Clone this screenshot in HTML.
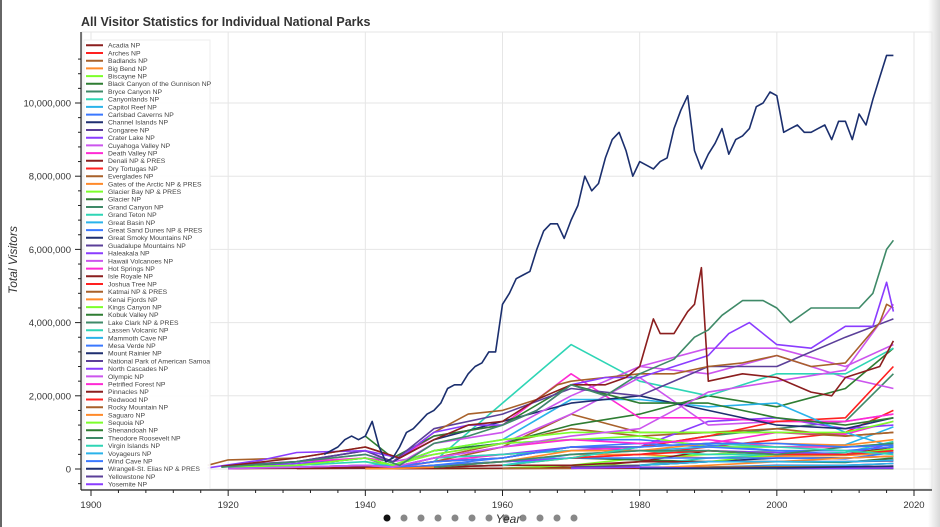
<!DOCTYPE html>
<html><head><meta charset="utf-8">
<style>
html,body{margin:0;padding:0;background:#fff;}
body{width:940px;height:527px;overflow:hidden;position:relative;font-family:"Liberation Sans",sans-serif;}
svg{position:absolute;left:0;top:0;}
</style></head>
<body>
<svg id="chart" width="940" height="527" viewBox="0 0 940 527"></svg>
<script>
const parkNames=["Acadia NP","Arches NP","Badlands NP","Big Bend NP","Biscayne NP","Black Canyon of the Gunnison NP","Bryce Canyon NP","Canyonlands NP","Capitol Reef NP","Carlsbad Caverns NP","Channel Islands NP","Congaree NP","Crater Lake NP","Cuyahoga Valley NP","Death Valley NP","Denali NP & PRES","Dry Tortugas NP","Everglades NP","Gates of the Arctic NP & PRES","Glacier Bay NP & PRES","Glacier NP","Grand Canyon NP","Grand Teton NP","Great Basin NP","Great Sand Dunes NP & PRES","Great Smoky Mountains NP","Guadalupe Mountains NP","Haleakala NP","Hawaii Volcanoes NP","Hot Springs NP","Isle Royale NP","Joshua Tree NP","Katmai NP & PRES","Kenai Fjords NP","Kings Canyon NP","Kobuk Valley NP","Lake Clark NP & PRES","Lassen Volcanic NP","Mammoth Cave NP","Mesa Verde NP","Mount Rainier NP","National Park of American Samoa","North Cascades NP","Olympic NP","Petrified Forest NP","Pinnacles NP","Redwood NP","Rocky Mountain NP","Saguaro NP","Sequoia NP","Shenandoah NP","Theodore Roosevelt NP","Virgin Islands NP","Voyageurs NP","Wind Cave NP","Wrangell-St. Elias NP & PRES","Yellowstone NP","Yosemite NP","Zion NP"];
const palette=["#8b1e1e","#ff2020","#a8612a","#ff8a2a","#7cff2a","#2e7d32","#3f8a68","#2ed5b5","#2ab3ea","#3a78ff","#1f2f70","#5b3f99","#8a3cff","#cc55ee","#ff2ad4"];
// Yearly data for Great Smoky Mountains (millions)
const smokyYears=[1934,1935,1936,1937,1938,1939,1940,1941,1942,1943,1944,1945,1946,1947,1948,1949,1950,1951,1952,1953,1954,1955,1956,1957,1958,1959,1960,1961,1962,1963,1964,1965,1966,1967,1968,1969,1970,1971,1972,1973,1974,1975,1976,1977,1978,1979,1980,1981,1982,1983,1984,1985,1986,1987,1988,1989,1990,1991,1992,1993,1994,1995,1996,1997,1998,1999,2000,2001,2002,2003,2004,2005,2006,2007,2008,2009,2010,2011,2012,2013,2014,2015,2016,2017];
const smokyValues=[0.4,0.5,0.6,0.8,0.9,0.8,0.9,1.3,0.6,0.2,0.3,0.6,1.0,1.1,1.3,1.5,1.6,1.8,2.2,2.3,2.3,2.6,2.8,2.9,3.2,3.2,4.5,4.8,5.2,5.3,5.4,6.0,6.5,6.7,6.7,6.3,6.8,7.2,8.0,7.6,7.8,8.5,9.0,9.2,8.7,8.0,8.4,8.3,8.2,8.4,8.5,9.3,9.8,10.2,8.7,8.2,8.6,8.9,9.3,8.6,9.0,9.1,9.3,9.9,10.0,10.3,10.2,9.2,9.3,9.4,9.2,9.2,9.3,9.4,9.0,9.5,9.5,9.0,9.7,9.4,10.1,10.7,11.3,11.3];
// Major series: years + values (millions)
const canyonYears=[1919,1930,1940,1945,1950,1955,1960,1965,1970,1975,1980,1985,1988,1990,1992,1995,1998,2000,2002,2005,2008,2010,2012,2014,2016,2017];
const canyonValues=[0.05,0.2,0.4,0.1,0.7,0.9,1.2,1.6,2.3,2.0,2.6,3.0,3.6,3.8,4.2,4.6,4.6,4.4,4.0,4.4,4.4,4.4,4.4,4.8,6.0,6.25];
const acadiaYears=[1919,1930,1940,1945,1950,1955,1960,1965,1970,1975,1978,1980,1982,1983,1985,1987,1988,1989,1990,1995,2000,2005,2008,2010,2015,2017];
const acadiaValues=[0.07,0.3,0.6,0.3,0.8,1.2,1.3,1.9,2.3,2.3,2.5,2.8,4.1,3.7,3.7,4.3,4.5,5.5,2.4,2.6,2.5,2.1,2.0,2.5,2.8,3.5];
const yosemiteYears=[1917,1925,1930,1940,1945,1950,1955,1960,1965,1970,1975,1980,1985,1990,1993,1996,2000,2005,2010,2014,2016,2017];
const yosemiteValues=[0.03,0.25,0.45,0.5,0.3,1.0,1.2,1.2,1.6,2.3,2.5,2.5,2.8,3.1,3.7,4.0,3.4,3.3,3.9,3.9,5.1,4.3];
const rockyYears=[1917,1920,1930,1940,1945,1950,1955,1960,1965,1968,1970,1975,1980,1985,1990,1995,2000,2005,2010,2015,2016,2017];
const rockyValues=[0.1,0.25,0.3,0.6,0.3,1.0,1.5,1.6,1.9,2.3,2.4,2.5,2.6,2.6,2.8,2.9,3.1,2.8,2.9,4.0,4.5,4.4];
// Other parks sampled at common years (millions, null = no data)
const sampleYears=[1920,1930,1940,1944,1950,1960,1970,1980,1990,2000,2010,2017];
const otherValues={
"Arches NP":[null,null,0.01,0.01,0.05,0.1,0.3,0.4,0.6,0.8,1.0,1.6],
"Badlands NP":[null,null,0.05,0.03,0.3,0.7,1.1,0.9,1.0,1.0,0.9,1.0],
"Big Bend NP":[null,null,null,0.01,0.1,0.2,0.4,0.4,0.3,0.35,0.37,0.44],
"Biscayne NP":[null,null,null,null,null,null,0.1,0.3,0.4,0.5,0.5,0.45],
"Black Canyon of the Gunnison NP":[null,null,0.02,0.02,0.1,0.2,0.3,0.25,0.2,0.2,0.18,0.3],
"Bryce Canyon NP":[0.01,0.05,0.1,0.05,0.2,0.3,0.6,0.6,0.9,1.1,1.3,2.6],
"Canyonlands NP":[null,null,null,null,null,null,0.05,0.1,0.3,0.4,0.45,0.75],
"Capitol Reef NP":[null,null,null,null,0.05,0.1,0.4,0.5,0.6,0.6,0.66,1.15],
"Carlsbad Caverns NP":[null,0.1,0.3,0.1,0.5,0.7,0.8,0.8,0.65,0.5,0.4,0.5],
"Channel Islands NP":[null,null,null,null,null,0.02,0.03,0.1,0.2,0.3,0.3,0.35],
"Congaree NP":[null,null,null,null,null,null,null,0.02,0.05,0.1,0.1,0.15],
"Crater Lake NP":[0.05,0.15,0.3,0.05,0.3,0.4,0.6,0.5,0.5,0.45,0.4,0.7],
"Cuyahoga Valley NP":[null,null,null,null,null,null,null,2.8,2.6,3.1,2.5,2.2],
"Death Valley NP":[null,null,0.05,0.02,0.2,0.4,0.5,0.6,0.7,1.0,0.95,1.3],
"Denali NP & PRES":[null,0.01,0.02,0.01,0.02,0.02,0.05,0.2,0.5,0.4,0.4,0.6],
"Dry Tortugas NP":[null,null,null,null,null,null,null,0.02,0.03,0.08,0.06,0.07],
"Everglades NP":[null,null,null,null,0.2,0.6,1.5,1.0,1.0,1.1,0.9,1.0],
"Gates of the Arctic NP & PRES":[null,null,null,null,null,null,null,0.01,0.01,0.01,0.01,0.01],
"Glacier Bay NP & PRES":[null,null,null,null,0.01,0.02,0.1,0.1,0.2,0.4,0.4,0.55],
"Glacier NP":[0.02,0.1,0.3,0.1,0.5,0.7,1.2,1.5,2.0,1.7,2.2,3.3],
"Grand Teton NP":[null,0.05,0.1,0.05,0.2,1.8,3.4,2.4,2.0,2.6,2.6,3.3],
"Great Basin NP":[null,null,null,null,null,null,null,null,0.05,0.09,0.1,0.15],
"Great Sand Dunes NP & PRES":[null,null,0.02,0.01,0.1,0.2,0.3,0.3,0.3,0.3,0.28,0.45],
"Guadalupe Mountains NP":[null,null,null,null,null,null,0.05,0.1,0.2,0.2,0.2,0.22],
"Haleakala NP":[null,null,null,null,0.05,0.2,0.3,0.6,1.3,1.4,1.1,1.2],
"Hawaii Volcanoes NP":[0.05,0.2,0.4,0.2,0.4,0.7,1.5,2.5,1.2,1.3,1.3,1.5],
"Hot Springs NP":[0.1,0.2,0.3,0.2,0.9,1.2,2.6,1.4,1.4,1.3,1.3,1.5],
"Isle Royale NP":[null,null,0.01,0.01,0.01,0.02,0.02,0.02,0.02,0.02,0.02,0.03],
"Joshua Tree NP":[null,null,null,0.05,0.2,0.3,0.6,0.6,0.9,1.3,1.4,2.8],
"Katmai NP & PRES":[null,null,null,null,null,0.01,0.02,0.05,0.05,0.06,0.05,0.04],
"Kenai Fjords NP":[null,null,null,null,null,null,null,0.02,0.1,0.2,0.3,0.35],
"Kings Canyon NP":[null,null,0.2,0.1,0.4,0.7,0.8,0.9,0.6,0.6,0.6,0.7],
"Kobuk Valley NP":[null,null,null,null,null,null,null,0.01,0.01,0.01,0.01,0.01],
"Lake Clark NP & PRES":[null,null,null,null,null,null,null,0.01,0.01,0.01,0.01,0.02],
"Lassen Volcanic NP":[0.02,0.1,0.2,0.05,0.3,0.4,0.5,0.5,0.4,0.4,0.4,0.5],
"Mammoth Cave NP":[null,null,0.1,0.1,0.5,0.8,1.9,1.9,1.7,1.8,1.0,0.6],
"Mesa Verde NP":[0.02,0.03,0.05,0.03,0.1,0.3,0.6,0.7,0.6,0.5,0.5,0.6],
"Mount Rainier NP":[0.05,0.2,0.5,0.2,0.8,1.3,1.8,2.0,1.6,1.2,1.1,1.4],
"National Park of American Samoa":[null,null,null,null,null,null,null,null,null,0.01,0.01,0.02],
"North Cascades NP":[null,null,null,null,null,null,0.02,0.05,0.02,0.03,0.02,0.03],
"Petrified Forest NP":[0.01,0.05,0.1,0.05,0.3,0.6,0.8,0.7,0.8,0.6,0.6,0.65],
"Pinnacles NP":[0.01,0.02,0.05,0.02,0.05,0.1,0.1,0.2,0.2,0.2,0.2,0.25],
"Redwood NP":[null,null,null,null,null,null,0.3,0.4,0.5,0.4,0.4,0.5],
"Saguaro NP":[null,null,0.01,0.01,0.05,0.2,0.5,0.5,0.7,0.7,0.65,0.8],
"Sequoia NP":[0.05,0.1,0.3,0.1,0.5,0.8,1.0,1.0,1.0,1.0,1.0,1.3],
"Shenandoah NP":[null,null,0.9,0.3,0.9,1.2,2.3,1.8,1.8,1.4,1.2,1.4],
"Theodore Roosevelt NP":[null,null,null,null,0.05,0.2,0.4,0.5,0.5,0.4,0.6,0.7],
"Virgin Islands NP":[null,null,null,null,null,0.1,0.3,0.6,0.7,0.6,0.5,0.4],
"Voyageurs NP":[null,null,null,null,null,null,null,0.1,0.2,0.2,0.2,0.24],
"Wind Cave NP":[0.02,0.05,0.1,0.05,0.2,0.3,0.6,0.6,0.7,0.7,0.6,0.65],
"Wrangell-St. Elias NP & PRES":[null,null,null,null,null,null,null,0.01,0.02,0.03,0.06,0.08],
"Yellowstone NP":[0.1,0.2,0.5,0.2,1.1,1.5,2.2,2.0,2.8,2.8,3.6,4.1],
"Zion NP":[0.01,0.05,0.1,0.05,0.3,0.6,0.9,1.1,2.1,2.4,2.7,4.5],
"Olympic NP":[null,null,0.1,0.05,0.7,1.0,2.0,2.8,3.3,3.3,2.8,3.4]
};
const xTicks=[1900,1920,1940,1960,1980,2000,2020];
const yTicks=[0,2,4,6,8,10];
const yTickLabels=["0","2,000,000","4,000,000","6,000,000","8,000,000","10,000,000"];

const NS="http://www.w3.org/2000/svg";
const svg=document.getElementById('chart');
const X=y=>91+(y-1900)*(823/120);
const Y=v=>469-v*36.6;
function mk(tag,attrs,parent){const e=document.createElementNS(NS,tag);for(const k in attrs)e.setAttribute(k,attrs[k]);(parent||svg).appendChild(e);return e;}

// frame decorations
let e=mk('rect',{x:0,y:0,width:2,height:527,fill:'#666'});


const defs=mk('defs',{});
defs.innerHTML='<linearGradient id="rg" x1="0" x2="1"><stop offset="0" stop-color="#fff"/><stop offset="1" stop-color="#d8d8d8"/></linearGradient><clipPath id="pc"><rect x="82" y="32" width="850" height="457"/></clipPath>';
e=mk('rect',{x:928,y:0,width:12,height:527,fill:'url(#rg)'});



// title
e=mk('text',{x:81,y:26,'font-size':12.5,'font-weight':'bold',fill:'#333'});
e.textContent='All Visitor Statistics for Individual National Parks';



// plot box + grid
e=mk('rect',{x:82,y:32,width:850,height:457,fill:'none',stroke:'#e6e6e6'});


xTicks.forEach(t=>{const g=mk('line',{x1:X(t),x2:X(t),y1:32,y2:489,stroke:'#e6e6e6'});

});
yTicks.forEach(t=>{const g=mk('line',{x1:82,x2:932,y1:Y(t),y2:Y(t),stroke:'#e6e6e6'});

});

// axes
e=mk('line',{x1:81,x2:81,y1:32,y2:490,stroke:'#222','stroke-width':1.2});


e=mk('line',{x1:81,x2:932,y1:490,y2:490,stroke:'#222','stroke-width':1.2});


for(let v=-0.8;v<=11.6;v+=0.4){const yy=Y(v);if(yy<33||yy>489)continue;const major=Math.abs(v/2-Math.round(v/2))<0.01;
const t=mk('line',{x1:major?75:78,x2:81,y1:yy,y2:yy,stroke:'#222'});

}
for(let yr=1900;yr<=2024;yr+=4){const major=(yr%20===0);
const t=mk('line',{x1:X(yr),x2:X(yr),y1:490,y2:major?496:493,stroke:'#222'});

}
yTicks.forEach((t,i)=>{const l=mk('text',{x:71,y:Y(t)+3.5,'font-size':9.5,'text-anchor':'end',fill:'#333'});l.textContent=yTickLabels[i];

});
xTicks.forEach(t=>{const l=mk('text',{x:X(t),y:508,'font-size':9.5,'text-anchor':'middle',fill:'#333'});l.textContent=String(t);

});
e=mk('text',{x:17,y:260,'font-size':12,'font-style':'italic',fill:'#333','text-anchor':'middle',transform:'rotate(-90 17 260)'});
e.textContent='Total Visitors';



// series
const plot=mk('g',{'clip-path':'url(#pc)'});


function drawLine(years,vals,color,name){let d='';let pen=false;
years.forEach((yr,i)=>{const v=vals[i];if(v===null||v===undefined){pen=false;return;}d+=(pen?'L':'M')+X(yr).toFixed(1)+','+Y(v).toFixed(1);pen=true;});
const p=mk('path',{d:d,fill:'none',stroke:color,'stroke-width':1.6,'stroke-linejoin':'round'},plot);

}
const colorOf=n=>palette[parkNames.indexOf(n)%palette.length];
parkNames.forEach(n=>{if(otherValues[n])drawLine(sampleYears,otherValues[n],colorOf(n),n);});
drawLine(rockyYears,rockyValues,colorOf("Rocky Mountain NP"),"Rocky Mountain NP");
drawLine(yosemiteYears,yosemiteValues,"#8a3cff","Yosemite NP");
drawLine(acadiaYears,acadiaValues,colorOf("Acadia NP"),"Acadia NP");
drawLine(canyonYears,canyonValues,colorOf("Grand Canyon NP"),"Grand Canyon NP");
drawLine(smokyYears,smokyValues,"#1b2f6e","Great Smoky Mountains NP");

// legend
const lg=mk('g',{'clip-path':'url(#pc)'});


mk('rect',{x:84,y:40,width:126,height:460,fill:'#fff','fill-opacity':0.92,stroke:'#eee'},lg);
parkNames.forEach((n,i)=>{const yy=45.3+i*7.7;
const s=mk('line',{x1:86,x2:103,y1:yy,y2:yy,stroke:palette[i%palette.length],'stroke-width':2},lg);


const t=mk('text',{x:108,y:yy+2.4,'font-size':6.8,fill:'#444'},lg);t.textContent=n;

});

// x title and pager dots
for(let i=0;i<12;i++){const c=mk('circle',{cx:387+i*17,cy:518,r:3.5,fill:i===0?'#111':'#888'});

}
e=mk('text',{x:508,y:523,'font-size':12,'font-style':'italic',fill:'#333','text-anchor':'middle'});
e.textContent='Year';


</script>
</body></html>
